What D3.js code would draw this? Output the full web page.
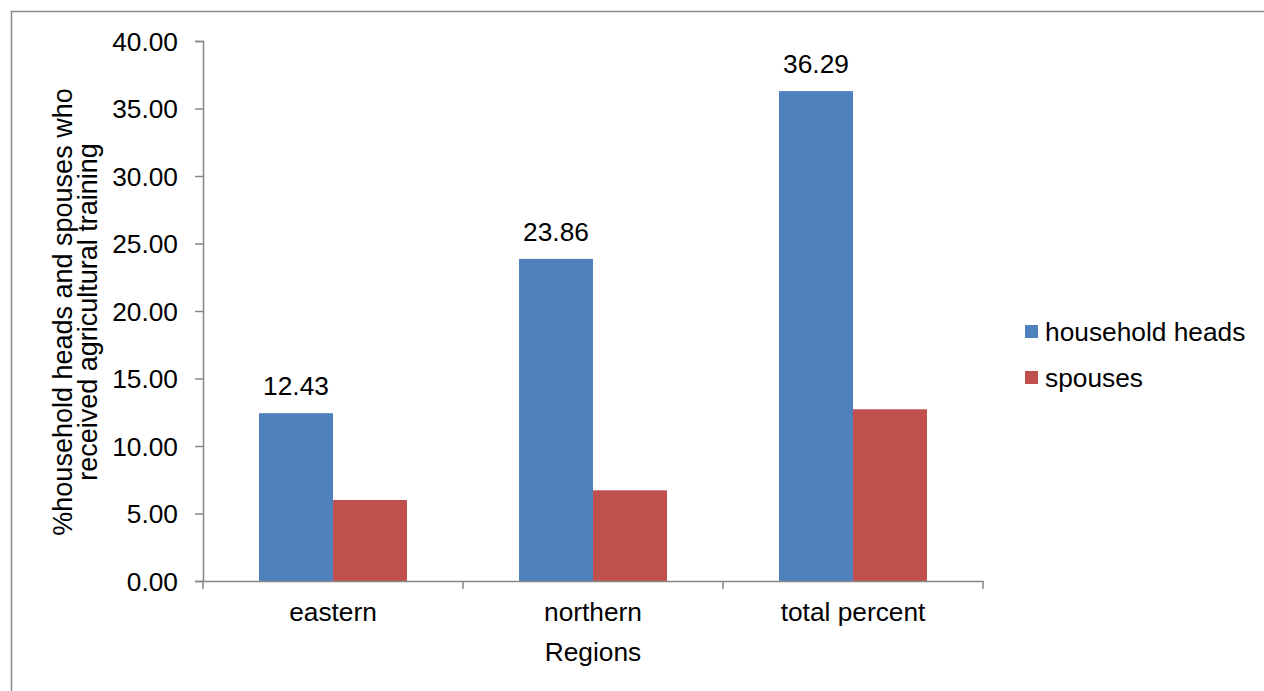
<!DOCTYPE html>
<html>
<head>
<meta charset="utf-8">
<script src="https://cdn.jsdelivr.net/npm/d3@7"></script>
<style>
  html, body { margin: 0; padding: 0; background: #fff; }
  svg { display: block; }
  text { font-family: "Liberation Sans", Arial, sans-serif; fill: #000; }
</style>
</head>
<body>
<svg id="chart" width="1264" height="691"></svg>
<script>
const categories = ["eastern", "northern", "total percent"];
const seriesNames = ["household heads", "spouses"];
const householdHeads = [12.43, 23.86, 36.29];
const spouses = [6.00, 6.72, 12.72];
const headLabels = ["12.43", "23.86", "36.29"];
const yTicks = [0, 5, 10, 15, 20, 25, 30, 35, 40];
const colors = ["#4F81BD", "#C0504D"];

const svg = d3.select("#chart");
const FS = 26.3;
const FT = 27;
const axisColor = "#868686";

// outer border
svg.append("rect").attr("x", 11.5).attr("y", 11.5).attr("width", 1262).attr("height", 700)
  .attr("fill", "none").attr("stroke", "#8a8a8a").attr("stroke-width", 1.5);

const x = d3.scaleBand().domain(categories).range([203, 983]).paddingInner(0).paddingOuter(0);
const xs = d3.scaleBand().domain(seriesNames).range([0, x.bandwidth()]).paddingInner(0).paddingOuter(0.757);
const y = d3.scaleLinear().domain([0, 40]).range([581, 41]);

const series = [householdHeads, spouses];

// bars
seriesNames.forEach((s, si) => {
  svg.append("g").selectAll("rect").data(categories).join("rect")
    .attr("x", c => x(c) + xs(s))
    .attr("y", (c, i) => y(series[si][i]))
    .attr("width", xs.bandwidth())
    .attr("height", (c, i) => y(0) - y(series[si][i]))
    .attr("fill", colors[si]);
});

// data labels
svg.append("g").selectAll("text").data(categories).join("text")
  .attr("x", c => x(c) + xs("household heads") + xs.bandwidth() / 2)
  .attr("y", (c, i) => y(householdHeads[i]) - 18)
  .attr("text-anchor", "middle")
  .style("font-size", FS + "px")
  .text((c, i) => headLabels[i]);

// y axis
const yAxis = d3.axisLeft(y).tickValues(yTicks).tickFormat(d3.format(".2f")).tickSize(8).tickPadding(17);
const gy = svg.append("g").attr("transform", "translate(203,0)").call(yAxis);
gy.select(".domain").attr("stroke", axisColor).attr("stroke-width", 1.5);
gy.selectAll(".tick line").attr("stroke", axisColor).attr("stroke-width", 1.5);
gy.selectAll(".tick text").style("font-size", FS + "px").attr("font-family", null).attr("fill", "#000").attr("dy", "0.36em");

// x axis
const xAxis = d3.axisBottom(x).tickSize(0).tickPadding(0);
const gx = svg.append("g").attr("transform", "translate(0,581)").call(xAxis);
gx.select(".domain").attr("stroke", axisColor).attr("stroke-width", 1.5);
gx.selectAll(".tick text").style("font-size", FS + "px").attr("font-family", null).attr("fill", "#000").attr("dy", null).attr("y", 40);
const edges = categories.map(c => x(c)).concat([x(categories[categories.length - 1]) + x.bandwidth()]);
gx.selectAll(".edge").data(edges).join("line").attr("class", "edge")
  .attr("x1", d => d).attr("x2", d => d).attr("y1", 0).attr("y2", 8)
  .attr("stroke", axisColor).attr("stroke-width", 1.5);

// axis titles
svg.append("text").attr("x", 593).attr("y", 661).attr("text-anchor", "middle")
  .style("font-size", FS + "px").text("Regions");
const yt = svg.append("text").attr("transform", "translate(0,312) rotate(-90)").attr("text-anchor", "middle")
  .style("font-size", FT + "px");
yt.append("tspan").attr("x", 0).attr("y", 72).text("%household heads and spouses who");
yt.append("tspan").attr("x", 0).attr("y", 97).text("received agricultural training");

// legend
const legY = [332, 378];
const lg = svg.append("g");
seriesNames.forEach((s, i) => {
  lg.append("rect").attr("x", 1025).attr("y", legY[i] - 7).attr("width", 13).attr("height", 13).attr("fill", colors[i]);
  lg.append("text").attr("x", 1045).attr("y", legY[i] + 9).style("font-size", FS + "px").text(s);
});
</script>
</body>
</html>
